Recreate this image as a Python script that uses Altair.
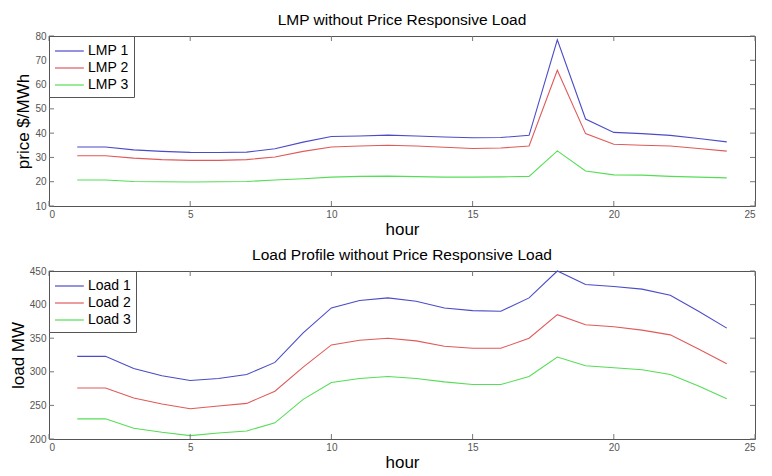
import altair as alt
import pandas as pd

hours = list(range(1, 25))

lmp1 = [34.3, 34.3, 33.1, 32.5, 32.1, 32.0, 32.2, 33.6, 36.3, 38.6, 38.8, 39.2,
        38.8, 38.4, 38.1, 38.2, 39.1, 78.4, 45.8, 40.3, 39.8, 39.1, 37.8, 36.4]
lmp2 = [30.7, 30.7, 29.7, 29.1, 28.8, 28.8, 29.1, 30.2, 32.5, 34.3, 34.7, 35.0,
        34.7, 34.2, 33.7, 33.9, 34.7, 65.9, 39.8, 35.4, 35.0, 34.7, 33.7, 32.6]
lmp3 = [20.7, 20.7, 20.1, 20.0, 19.9, 20.0, 20.1, 20.7, 21.2, 21.9, 22.2, 22.3,
        22.1, 21.9, 21.9, 22.0, 22.2, 32.7, 24.4, 22.8, 22.7, 22.2, 21.9, 21.6]

load1 = [323, 323, 305, 294, 287, 290, 296, 314, 358, 395, 406, 410,
         405, 395, 391, 390, 410, 450, 430, 427, 423, 414, 390, 365]
load2 = [276, 276, 261, 252, 245, 249, 253, 271, 307, 340, 347, 350,
         346, 338, 335, 335, 350, 385, 370, 367, 362, 355, 334, 312]
load3 = [230, 230, 216, 210, 205, 209, 212, 224, 259, 284, 290, 293,
         290, 285, 281, 281, 293, 322, 309, 306, 303, 296, 279, 260]

lmp_names = ["LMP 1", "LMP 2", "LMP 3"]
load_names = ["Load 1", "Load 2", "Load 3"]
colors = ["#4b4bc8", "#e05a5a", "#55dd55"]

x_ticks = [0, 5, 10, 15, 20, 25]
lmp_ticks = [10, 20, 30, 40, 50, 60, 70, 80]
load_ticks = [200, 250, 300, 350, 400, 450]

W = 706
TICKC = "#777"


def long_df(names, series):
    rows = []
    for n, s in zip(names, series):
        for h, v in zip(hours, s):
            rows.append({"hour": h, "series": n, "value": v})
    return pd.DataFrame(rows)


def panel(names, series, ydom, yticks, ytitle, title, H):
    df = long_df(names, series)
    xs = alt.Scale(domain=[0, 25], nice=False, zero=False)
    ys = alt.Scale(domain=ydom, nice=False, zero=False)
    xax = alt.Axis(values=x_ticks, format="d")
    yax = alt.Axis(values=yticks, format="d")
    lines = alt.Chart(df).mark_line(strokeWidth=1.1).encode(
        x=alt.X("hour:Q", scale=xs, title="hour", axis=xax),
        y=alt.Y("value:Q", scale=ys, title=ytitle, axis=yax),
        color=alt.Color("series:N",
                        scale=alt.Scale(domain=names, range=colors),
                        legend=alt.Legend(title=None, orient="top-left",
                                          offset=0)),
    )
    xt = pd.DataFrame({"t": x_ticks})
    yt = pd.DataFrame({"v": yticks})
    top_ticks = alt.Chart(xt).mark_rule(color=TICKC, strokeWidth=1).encode(
        x=alt.X("t:Q", scale=xs, title="hour", axis=xax),
        y=alt.value(0), y2=alt.value(5))
    bot_ticks = alt.Chart(xt).mark_rule(color=TICKC, strokeWidth=1).encode(
        x=alt.X("t:Q", scale=xs, title="hour", axis=xax),
        y=alt.value(H), y2=alt.value(H - 5))
    left_ticks = alt.Chart(yt).mark_rule(color=TICKC, strokeWidth=1).encode(
        y=alt.Y("v:Q", scale=ys, title=ytitle, axis=yax),
        x=alt.value(0), x2=alt.value(5))
    right_ticks = alt.Chart(yt).mark_rule(color=TICKC, strokeWidth=1).encode(
        y=alt.Y("v:Q", scale=ys, title=ytitle, axis=yax),
        x=alt.value(W), x2=alt.value(W - 5))
    return alt.layer(lines, top_ticks, bot_ticks, left_ticks, right_ticks).properties(
        width=W, height=H,
        title=alt.TitleParams(title, fontSize=15.5, font="Liberation Sans",
                              fontWeight="normal", color="black", offset=3),
    )


top = panel(lmp_names, [lmp1, lmp2, lmp3], [10, 80], lmp_ticks,
            "price $/MWh", "LMP without Price Responsive Load", 170)
bottom = panel(load_names, [load1, load2, load3], [200, 450], load_ticks,
               "load MW", "Load Profile without Price Responsive Load", 168)

chart = alt.vconcat(top, bottom, spacing=9).resolve_scale(
    color="independent", x="independent", y="independent"
).properties(
    padding={"left": 0, "top": 4, "right": 0, "bottom": 0},
    background="white",
).configure_view(
    stroke="#555", strokeWidth=1
).configure_axis(
    ticks=False, domain=False, grid=False,
    labelColor="#555", labelFontSize=10, labelFont="Liberation Sans",
    labelPadding=3,
    titleFont="Liberation Sans", titleFontSize=17, titleFontWeight="normal",
    titleColor="black", titlePadding=2,
).configure_legend(
    strokeColor="#555", fillColor="white", padding=5,
    symbolType="M-1,0H2.2", symbolSize=324, symbolStrokeWidth=1.2,
    labelFont="Liberation Sans", labelFontSize=14, labelColor="black",
    labelOffset=14, rowPadding=0, cornerRadius=0,
)

chart.save("out.html", embed_options={"renderer": "svg", "actions": False})
